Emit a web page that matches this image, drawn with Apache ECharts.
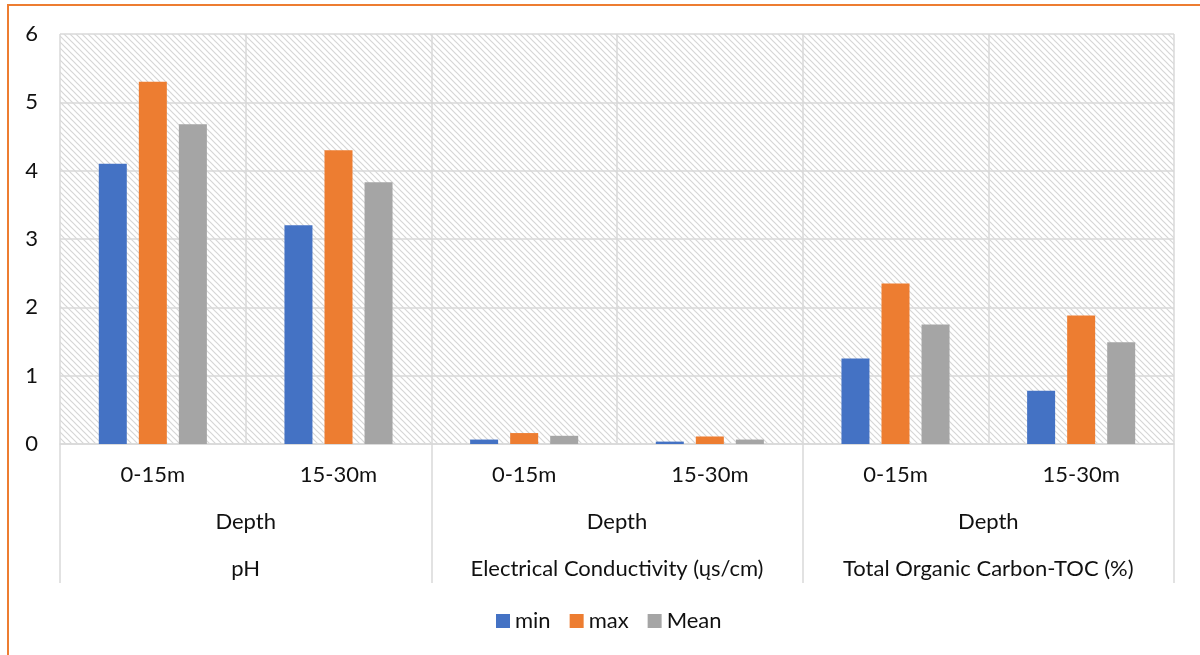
<!DOCTYPE html>
<html>
<head>
<meta charset="utf-8">
<script src="https://cdn.jsdelivr.net/npm/echarts@6/dist/echarts.min.js"></script>
<style>
html,body{margin:0;padding:0;background:#fff;overflow:hidden;}
#frame{position:absolute;left:7px;top:4px;width:1300px;height:800px;border-left:2px solid #ED7D31;border-top:2px solid #ED7D31;}
#chart{position:absolute;left:0;top:0;width:1200px;height:655px;}
</style>
</head>
<body>
<div id="frame"></div>
<div id="chart"></div>
<script>
const depthLabels = ['0-15m','15-30m','0-15m','15-30m','0-15m','15-30m'];
const midLabels = ['Depth','Depth','Depth'];
const groupLabels = ['pH','Electrical Conductivity (ųs/cm)','Total Organic Carbon-TOC (%)'];
const seriesNames = ['min','max','Mean'];
const minVals = [4.1, 3.2, 0.065, 0.035, 1.25, 0.78];
const maxVals = [5.3, 4.3, 0.16, 0.11, 2.35, 1.88];
const meanVals = [4.68, 3.83, 0.12, 0.065, 1.75, 1.49];
const yTicks = [0, 6, 1];
const colors = ['#4472C4','#ED7D31','#A5A5A5'];

const FONT = 'Lato';
const FS = 22;
const TXT = '#111';

// hatch pattern
const pc = document.createElement('canvas');
pc.width = 6; pc.height = 6;
const g = pc.getContext('2d');
g.fillStyle = '#ffffff'; g.fillRect(0,0,6,6);
g.strokeStyle = '#d6d6d6'; g.lineWidth = 1.2;
g.beginPath(); g.moveTo(-1,-1); g.lineTo(7,7); g.stroke();
g.beginPath(); g.moveTo(-1,5); g.lineTo(1,7); g.stroke();
g.beginPath(); g.moveTo(5,-1); g.lineTo(7,1); g.stroke();

const chart = echarts.init(document.getElementById('chart'), null, {renderer:'canvas'});
const gridLine = '#d9d9d9';
chart.setOption({
  animation:false,
  textStyle:{fontFamily:FONT},
  grid:{left:60, right:26, top:34, bottom:211, show:true, borderWidth:0,
        backgroundColor:{image:pc, repeat:'repeat'}},
  legend:{
    data:seriesNames, top:605, left:491, icon:'rect', itemWidth:14, itemHeight:14, itemGap:19,
    textStyle:{fontFamily:FONT, fontSize:FS, color:TXT}
  },
  xAxis:[
    {type:'category', data:depthLabels, position:'bottom',
     axisLine:{show:true, lineStyle:{color:gridLine, width:1.5}},
     axisTick:{show:false},
     splitLine:{show:true, lineStyle:{color:gridLine, width:1.5}},
     axisLabel:{interval:0, hideOverlap:false, fontFamily:FONT, fontSize:FS, color:TXT, margin:20}},
    {type:'category', data:midLabels, position:'bottom', offset:0,
     axisLine:{show:false},
     axisTick:{show:true, interval:0, length:139, lineStyle:{color:gridLine, width:1.5}},
     axisLabel:{interval:0, hideOverlap:false, fontFamily:FONT, fontSize:FS, color:TXT, margin:67}},
    {type:'category', data:groupLabels, position:'bottom', offset:0,
     axisLine:{show:false}, axisTick:{show:false},
     axisLabel:{interval:0, hideOverlap:false, fontFamily:FONT, fontSize:FS, color:TXT, margin:114}}
  ],
  yAxis:{type:'value', min:yTicks[0], max:yTicks[1], interval:yTicks[2],
    axisLine:{show:false}, axisTick:{show:false},
    splitLine:{lineStyle:{color:gridLine, width:1.5}},
    axisLabel:{fontFamily:FONT, fontSize:FS, color:TXT, margin:22}},
  series:[
    {name:seriesNames[0], type:'bar', data:minVals, barWidth:28, barGap:'43%', itemStyle:{color:colors[0]}},
    {name:seriesNames[1], type:'bar', data:maxVals, barWidth:28, barGap:'43%', itemStyle:{color:colors[1]}},
    {name:seriesNames[2], type:'bar', data:meanVals, barWidth:28, barGap:'43%', itemStyle:{color:colors[2]}}
  ]
});
</script>
</body>
</html>
